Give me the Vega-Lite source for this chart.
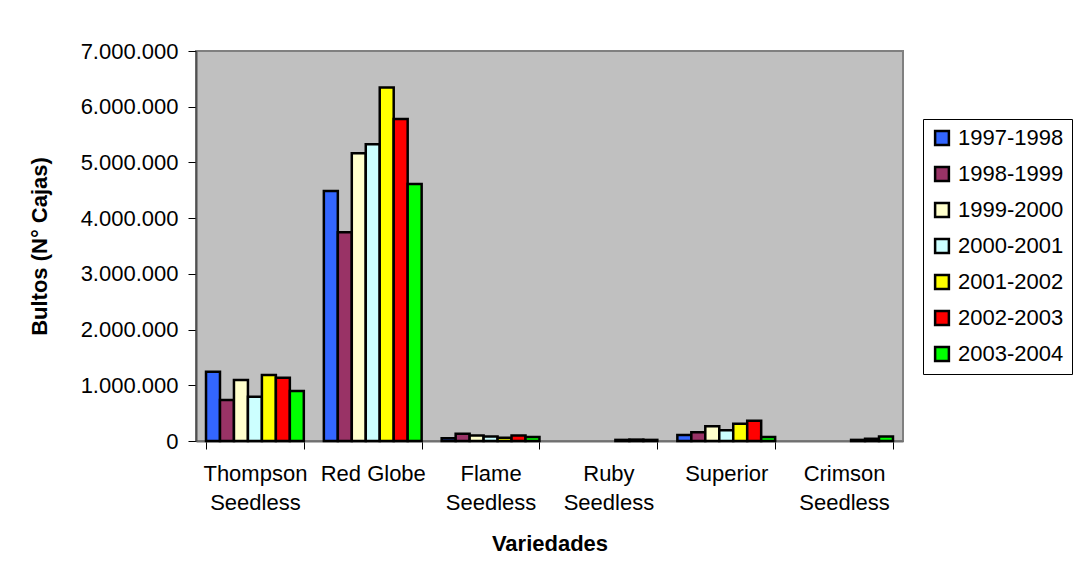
{
  "$schema": "https://vega.github.io/schema/vega-lite/v6.json",
  "width": 707,
  "height": 390,
  "autosize": {"type": "none"},
  "padding": {"left": 196, "top": 51, "right": 173, "bottom": 141},
  "background": "white",
  "config": {
    "font": "Liberation Sans",
    "view": {"fill": "#C0C0C0", "stroke": "#808080", "strokeWidth": 2}
  },
  "data": {
    "values": [
      {"variedad": "Thompson Seedless", "temporada": "1997-1998", "bultos": 1244000},
      {"variedad": "Thompson Seedless", "temporada": "1998-1999", "bultos": 736000},
      {"variedad": "Thompson Seedless", "temporada": "1999-2000", "bultos": 1095000},
      {"variedad": "Thompson Seedless", "temporada": "2000-2001", "bultos": 795000},
      {"variedad": "Thompson Seedless", "temporada": "2001-2002", "bultos": 1185000},
      {"variedad": "Thompson Seedless", "temporada": "2002-2003", "bultos": 1137000},
      {"variedad": "Thompson Seedless", "temporada": "2003-2004", "bultos": 898000},
      {"variedad": "Red Globe", "temporada": "1997-1998", "bultos": 4488000},
      {"variedad": "Red Globe", "temporada": "1998-1999", "bultos": 3747000},
      {"variedad": "Red Globe", "temporada": "1999-2000", "bultos": 5165000},
      {"variedad": "Red Globe", "temporada": "2000-2001", "bultos": 5327000},
      {"variedad": "Red Globe", "temporada": "2001-2002", "bultos": 6343000},
      {"variedad": "Red Globe", "temporada": "2002-2003", "bultos": 5780000},
      {"variedad": "Red Globe", "temporada": "2003-2004", "bultos": 4614000},
      {"variedad": "Flame Seedless", "temporada": "1997-1998", "bultos": 50000},
      {"variedad": "Flame Seedless", "temporada": "1998-1999", "bultos": 130000},
      {"variedad": "Flame Seedless", "temporada": "1999-2000", "bultos": 100000},
      {"variedad": "Flame Seedless", "temporada": "2000-2001", "bultos": 80000},
      {"variedad": "Flame Seedless", "temporada": "2001-2002", "bultos": 60000},
      {"variedad": "Flame Seedless", "temporada": "2002-2003", "bultos": 100000},
      {"variedad": "Flame Seedless", "temporada": "2003-2004", "bultos": 70000},
      {"variedad": "Ruby Seedless", "temporada": "2001-2002", "bultos": 20000},
      {"variedad": "Ruby Seedless", "temporada": "2002-2003", "bultos": 25000},
      {"variedad": "Ruby Seedless", "temporada": "2003-2004", "bultos": 20000},
      {"variedad": "Superior", "temporada": "1997-1998", "bultos": 108000},
      {"variedad": "Superior", "temporada": "1998-1999", "bultos": 156000},
      {"variedad": "Superior", "temporada": "1999-2000", "bultos": 264000},
      {"variedad": "Superior", "temporada": "2000-2001", "bultos": 192000},
      {"variedad": "Superior", "temporada": "2001-2002", "bultos": 310000},
      {"variedad": "Superior", "temporada": "2002-2003", "bultos": 365000},
      {"variedad": "Superior", "temporada": "2003-2004", "bultos": 70000},
      {"variedad": "Crimson Seedless", "temporada": "2001-2002", "bultos": 20000},
      {"variedad": "Crimson Seedless", "temporada": "2002-2003", "bultos": 40000},
      {"variedad": "Crimson Seedless", "temporada": "2003-2004", "bultos": 80000}
    ]
  },
  "mark": {"type": "bar", "stroke": "black", "strokeWidth": 2.5},
  "encoding": {
    "x": {
      "field": "variedad",
      "type": "nominal",
      "sort": ["Thompson Seedless", "Red Globe", "Flame Seedless", "Ruby Seedless", "Superior", "Crimson Seedless"],
      "scale": {"paddingInner": 0.17, "paddingOuter": 0.085},
      "axis": {
        "title": "Variedades",
        "titleFontSize": 22,
        "titleFontWeight": "bold",
        "titleColor": "black",
        "titlePadding": 20,
        "labelAngle": 0,
        "labelFontSize": 22,
        "labelColor": "black",
        "labelPadding": 14,
        "labelLineHeight": 29,
        "labelOverlap": false,
        "labelExpr": "(datum.label == 'Red Globe' || datum.label == 'Superior') ? datum.label : split(datum.label, ' ')",
        "tickBand": "extent",
        "tickColor": "black",
        "tickSize": 8,
        "domainColor": "#707070",
        "domainWidth": 2
      }
    },
    "xOffset": {
      "field": "temporada",
      "type": "nominal",
      "sort": ["1997-1998", "1998-1999", "1999-2000", "2000-2001", "2001-2002", "2002-2003", "2003-2004"],
      "scale": {"paddingInner": 0, "paddingOuter": 0}
    },
    "y": {
      "field": "bultos",
      "type": "quantitative",
      "scale": {"domain": [0, 7000000], "nice": false},
      "axis": {
        "title": "Bultos (N° Cajas)",
        "titleFontSize": 22,
        "titleFontWeight": "bold",
        "titleColor": "black",
        "titleX": -145,
        "values": [0, 1000000, 2000000, 3000000, 4000000, 5000000, 6000000, 7000000],
        "grid": false,
        "labelFontSize": 22,
        "labelColor": "black",
        "labelPadding": 10,
        "labelOverlap": false,
        "labelExpr": "replace(format(datum.value, ','), /,/g, '.')",
        "tickColor": "black",
        "tickSize": 8,
        "domainColor": "#505050",
        "domainWidth": 2
      }
    },
    "fill": {
      "field": "temporada",
      "type": "nominal",
      "scale": {
        "domain": ["1997-1998", "1998-1999", "1999-2000", "2000-2001", "2001-2002", "2002-2003", "2003-2004"],
        "range": ["#3366FF", "#993366", "#FFFFCC", "#CCFFFF", "#FFFF00", "#FF0000", "#00FF00"]
      },
      "legend": {
        "title": null,
        "orient": "none",
        "legendX": 727,
        "legendY": 68,
        "symbolType": "square",
        "symbolSize": 190,
        "symbolStrokeColor": "black",
        "symbolStrokeWidth": 2.5,
        "labelFontSize": 22,
        "labelColor": "black",
        "labelOffset": 5,
        "rowPadding": 12,
        "padding": 8,
        "strokeColor": "black",
        "fillColor": "white",
        "cornerRadius": 0
      }
    }
  }
}
